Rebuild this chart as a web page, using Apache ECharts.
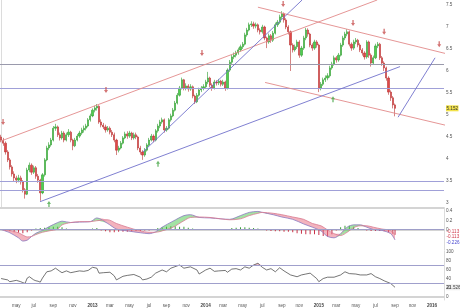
<!DOCTYPE html>
<html><head><meta charset="utf-8">
<script src="https://cdn.jsdelivr.net/npm/echarts@6/dist/echarts.min.js"></script>
<style>html,body{margin:0;padding:0;background:#fff}#c{width:460px;height:308px}</style>
</head><body><div id="c"></div>
<script>
// ---------- data ----------
const startDate = [2012, 2, 12];          // first weekly bar (Y, M0, D)
const weekCount = 204;                    // weeks shown on the axis
const monthNames = ['jan','feb','mar','apr','may','jun','jul','aug','sep','oct','nov','dec'];
// weekly candles: [open, close, low, high]
const candles = [
[4.50,4.43,4.38,4.55],[4.43,4.36,4.30,4.48],[4.36,4.16,4.10,4.40],[4.16,3.98,3.93,4.20],[3.98,3.82,3.76,4.02],
[3.82,3.66,3.60,3.86],[3.66,3.57,3.50,3.72],[3.57,3.52,3.45,3.62],[3.52,3.57,3.47,3.64],[3.57,3.48,3.42,3.62],
[3.48,3.30,3.24,3.52],[3.30,3.20,3.10,3.34],[3.20,3.75,3.18,3.80],[3.75,3.86,3.70,3.92],[3.86,3.70,3.64,3.90],
[3.70,3.80,3.66,3.85],[3.80,3.61,3.55,3.84],[3.61,3.52,3.46,3.66],[3.52,3.23,3.05,3.55],[3.23,3.64,3.20,3.68],
[3.64,3.98,3.60,4.02],[3.98,4.25,3.95,4.30],[4.25,4.32,4.20,4.38],[4.32,4.43,4.28,4.48],[4.43,4.70,4.40,4.75],
[4.70,4.73,4.64,4.80],[4.73,4.55,4.50,4.76],[4.55,4.48,4.42,4.60],[4.48,4.59,4.44,4.64],[4.59,4.43,4.38,4.63],
[4.43,4.55,4.40,4.60],[4.55,4.61,4.50,4.68],[4.61,4.43,4.38,4.64],[4.43,4.30,4.20,4.46],[4.30,4.43,4.27,4.48],
[4.43,4.52,4.40,4.57],[4.52,4.59,4.48,4.64],[4.59,4.66,4.55,4.71],[4.66,4.70,4.60,4.76],[4.70,4.75,4.65,4.80],
[4.75,4.89,4.72,4.93],[4.89,4.98,4.85,5.03],[4.98,5.11,4.95,5.15],[5.11,5.16,5.06,5.21],[5.16,5.20,5.10,5.25],
[5.20,4.84,4.80,5.22],[4.84,4.77,4.72,4.90],[4.77,4.73,4.68,4.82],[4.73,4.66,4.60,4.78],[4.66,4.70,4.62,4.75],
[4.70,4.61,4.56,4.74],[4.61,4.55,4.50,4.66],[4.55,4.43,4.38,4.60],[4.43,4.20,4.09,4.46],[4.20,4.25,4.15,4.30],
[4.25,4.36,4.22,4.41],[4.36,4.48,4.33,4.52],[4.48,4.57,4.45,4.62],[4.57,4.52,4.46,4.63],[4.52,4.59,4.48,4.64],
[4.59,4.48,4.43,4.62],[4.48,4.55,4.44,4.60],[4.55,4.50,4.45,4.60],[4.50,4.25,4.20,4.53],[4.25,4.16,4.10,4.30],
[4.16,4.09,3.98,4.20],[4.09,4.20,4.05,4.25],[4.20,4.32,4.17,4.36],[4.32,4.43,4.28,4.48],[4.43,4.52,4.40,4.57],
[4.52,4.43,4.38,4.56],[4.43,4.64,4.40,4.68],[4.64,4.75,4.60,4.80],[4.75,4.84,4.70,4.89],[4.84,4.89,4.80,4.94],
[4.89,4.66,4.60,4.92],[4.66,4.70,4.62,4.75],[4.70,4.89,4.67,4.93],[4.89,4.98,4.85,5.03],[4.98,5.11,4.95,5.16],
[5.11,5.27,5.08,5.32],[5.27,5.45,5.24,5.50],[5.45,5.61,5.42,5.66],[5.61,5.80,5.58,5.85],[5.80,5.61,5.56,5.82],
[5.61,5.66,5.56,5.72],[5.66,5.59,5.53,5.70],[5.59,5.64,5.55,5.70],[5.64,5.43,5.38,5.67],[5.43,5.30,5.25,5.46],
[5.30,5.45,5.27,5.50],[5.45,5.57,5.42,5.62],[5.57,5.61,5.52,5.66],[5.61,5.64,5.56,5.70],[5.64,5.75,5.60,5.80],
[5.75,5.84,5.70,5.98],[5.84,5.68,5.63,5.87],[5.68,5.61,5.55,5.72],[5.61,5.75,5.58,5.80],[5.75,5.73,5.67,5.79],
[5.73,5.77,5.68,5.82],[5.77,5.70,5.65,5.80],[5.70,5.75,5.66,5.80],[5.75,5.61,5.55,5.78],[5.61,6.02,5.58,6.06],
[6.02,6.20,5.98,6.25],[6.20,6.32,6.16,6.37],[6.32,6.36,6.27,6.42],[6.36,6.41,6.31,6.46],[6.41,6.48,6.37,6.53],
[6.48,6.55,6.44,6.60],[6.55,6.61,6.50,6.66],[6.61,6.82,6.58,6.87],[6.82,6.93,6.78,6.98],[6.93,7.05,6.90,7.10],
[7.05,7.07,7.00,7.13],[7.07,7.02,6.96,7.12],[7.02,7.05,6.97,7.10],[7.05,6.93,6.88,7.08],[6.93,6.89,6.83,6.97],
[6.89,7.00,6.85,7.05],[7.00,6.75,6.70,7.03],[6.75,6.66,6.52,6.78],[6.66,6.80,6.62,6.85],[6.80,6.70,6.64,6.84],
[6.70,6.86,6.66,6.91],[6.86,7.05,6.83,7.10],[7.05,7.11,7.00,7.16],[7.11,7.23,7.07,7.28],[7.23,7.30,7.18,7.36],
[7.30,7.16,7.10,7.33],[7.16,7.00,6.95,7.20],[7.00,6.89,6.83,7.04],[6.89,6.59,6.00,6.92],[6.59,6.48,6.42,6.63],
[6.48,6.55,6.44,6.60],[6.55,6.66,6.50,6.71],[6.66,6.36,6.30,6.70],[6.36,6.52,6.32,6.57],[6.52,6.75,6.48,6.80],
[6.75,6.93,6.70,6.98],[6.93,6.84,6.78,6.97],[6.84,6.59,6.54,6.87],[6.59,6.52,6.46,6.63],[6.52,6.66,6.48,6.71],
[6.66,6.59,6.53,6.70],[6.59,5.61,5.52,6.62],[5.61,5.70,5.56,5.75],[5.70,5.80,5.66,5.85],[5.80,5.84,5.75,5.90],
[5.84,5.89,5.79,5.95],[5.89,6.07,5.85,6.12],[6.07,6.16,6.03,6.21],[6.16,6.30,6.12,6.35],[6.30,6.25,6.19,6.34],
[6.25,6.36,6.21,6.41],[6.36,6.59,6.33,6.64],[6.59,6.75,6.55,6.80],[6.75,6.84,6.70,6.89],[6.84,6.89,6.79,6.95],
[6.89,6.61,6.56,6.92],[6.61,6.52,6.46,6.65],[6.52,6.66,6.48,6.71],[6.66,6.70,6.61,6.75],[6.70,6.59,6.54,6.73],
[6.59,6.48,6.43,6.63],[6.48,6.41,6.35,6.52],[6.41,6.32,6.26,6.45],[6.32,6.66,6.28,6.70],[6.66,6.36,6.30,6.69],
[6.36,6.18,6.10,6.40],[6.18,6.30,6.14,6.35],[6.30,6.57,6.27,6.62],[6.57,6.61,6.52,6.66],[6.61,6.30,6.25,6.64],
[6.30,6.18,6.12,6.34],[6.18,6.07,6.00,6.22],[6.07,5.84,5.78,6.10],[5.84,5.52,5.46,5.88],[5.52,5.39,5.32,5.56],
[5.39,5.23,5.15,5.43],[5.23,5.152,4.97,5.26]
];
// trend lines, endpoints as [week index, price]
const redLines = [
  [[-0.5, 4.40], [172.8, 7.614]],
  [[118, 7.45], [204, 6.40]],
  [[121.3, 5.74], [204, 4.77]]
];
const blueLines = [
  [[17.9, 3.03], [183.3, 6.10]],
  [[65.2, 4.16], [138.3, 7.614]],
  [[182.4, 4.95], [199.4, 6.30]]
];
const levelsGrey = [6.16];
const levelsBlue = [5.61, 3.50, 3.30];
const sellSignals = [[0.9,4.84],[48.2,5.57],[92.3,6.41],[129.6,7.52],[161.7,7.09],[176,6.89],[201.3,6.61]];
const buySignals = [[22,2.98],[72.1,3.89],[152.5,5.36]];
const priceTicks = [3,3.5,4,4.5,5,5.5,6,6.5,7,7.5];
// MACD panel
const macdWeeks  = [0,4,8,10,12,14,16,19,22,26,28,32,36,41,44,49,53,58,64,68,71,74,79,84,87,91,96,101,105,110,114,118,120,125,129,134,139,143,147,150,153,156,159,162,165,168,171,175,179,181];
const macdLine   = [0,-0.07,-0.18,-0.25,-0.23,-0.15,-0.08,-0.02,0.06,0.15,0.18,0.15,0.16,0.17,0.25,0.13,0.01,-0.03,-0.07,-0.09,-0.05,0.05,0.18,0.30,0.32,0.26,0.25,0.23,0.22,0.30,0.37,0.39,0.37,0.32,0.27,0.22,0.12,0.05,-0.03,-0.15,-0.18,-0.09,0.05,0.10,0.10,0.05,0.00,-0.02,-0.09,-0.226];
const signalLine = [0,-0.02,-0.07,-0.12,-0.16,-0.15,-0.11,-0.06,-0.03,0.01,0.10,0.15,0.17,0.17,0.19,0.21,0.13,0.05,-0.03,-0.06,-0.06,-0.03,0.05,0.19,0.26,0.27,0.26,0.23,0.21,0.23,0.30,0.35,0.37,0.35,0.32,0.27,0.22,0.13,0.08,-0.01,-0.09,-0.13,-0.06,0.04,0.08,0.08,0.05,0.01,-0.02,-0.113];
const histWeeks  = [0,2,4,6,8,10,12,14,16,18,20,22,24,26,28,30,32,34,36,38,40,42,44,46,48,50,52,54,56,58,60,62,64,66,68,70,72,74,76,78,80,82,84,86,88,90,92,94,96,98,100,102,104,106,108,110,112,114,116,118,120,122,124,126,128,130,132,134,136,138,140,142,144,146,148,150,152,154,156,158,160,162,164,166,168,170,172,174,176,178,180,181];
const histValues = [0,-0.02,-0.04,-0.06,-0.07,-0.08,-0.06,-0.02,0.02,0.03,
0.04,0.05,0.06,0.06,0.05,0.02,0,-0.01,-0.01,0,
0,0.02,0.03,-0.02,-0.04,-0.06,-0.06,-0.05,-0.05,-0.05,
-0.04,-0.03,-0.03,-0.02,-0.02,0,0.03,0.05,0.06,0.07,
0.07,0.06,0.06,0.04,0.02,0,-0.01,-0.01,0,0,
0,0,0.01,0.03,0.04,0.05,0.05,0.04,0.03,0.02,
0,-0.02,-0.03,-0.04,-0.04,-0.05,-0.05,-0.06,-0.08,-0.09,
-0.1,-0.1,-0.1,-0.12,-0.14,-0.15,-0.1,-0.02,0.05,0.08,
0.08,0.06,0.03,0,-0.02,-0.03,-0.03,-0.03,-0.04,-0.06,
-0.09,-0.113];
const macdTicks = [0,0.2,0.4];
// RSI panel
const rsiWeeks  = [0,3,4,7,9,10,11,12,13,15,16,17,18,19,20,21,23,25,27,28,30,32,34,36,38,40,42,44,45,47,50,52,53,56,58,61,64,65,67,69,71,74,76,78,82,84,87,90,91,94,96,98,100,103,104,106,108,110,112,114,116,118,120,122,124,126,128,130,133,136,138,140,142,145,146,148,150,153,156,158,160,163,165,168,170,172,174,176,179,181];
const rsiValues = [41,38,34,37,34,32,30,42,45,38,36,35,33,42,49,56,58,64,57,54,58,54,56,58,57,59,66,64,53,54,55,47,38,46,48,50,44,38,40,44,53,60,56,64,71,64,67,60,51,60,64,57,58,59,55,62,63,60,67,64,71,75,66,60,63,56,65,58,49,45,49,51,53,41,34,41,44,44,49,56,52,51,49,49,52,45,41,36,30,21.526];
const rsiUpper = 70;
const rsiLower = 30;
const rsiTicks = [0,20,40,60,80,100];

// ---------- build ----------
const cats = [];
const labelOf = [];
for (let i = 0; i < weekCount; i++) {
  const d = new Date(startDate[0], startDate[1], startDate[2] + 7 * i);
  const e = new Date(startDate[0], startDate[1], startDate[2] + 7 * i + 6);
  cats.push(d.getFullYear() + '-' + (d.getMonth() + 1) + '-' + d.getDate());
  let lab = '';
  let m = -1, y = 0;
  if (d.getDate() === 1) { m = d.getMonth(); y = d.getFullYear(); }
  else if (d.getMonth() !== e.getMonth()) { m = e.getMonth(); y = e.getFullYear(); }
  if (m >= 0 && m % 2 === 0) lab = m === 0 ? '{y|' + y + '}' : monthNames[m];
  labelOf.push(lab);
}

const FONT = 'Liberation Sans';
const lab = { fontSize: 4.6, color: '#555', fontFamily: FONT };
const sep = { lineStyle: { color: '#d4d4d4', width: 2 } };

const catAxis = (g, showLab) => ({
  type: 'category', gridIndex: g, data: cats, boundaryGap: true,
  axisLine: { show: true, ...sep }, axisTick: { show: false },
  axisLabel: showLab ? {
    ...lab, margin: 3,
    interval: (idx) => labelOf[idx] !== '',
    formatter: (v, idx) => labelOf[idx],
    rich: { y: { fontSize: 4.6, fontWeight: 'bold', color: '#444', fontFamily: FONT } }
  } : { show: false },
  splitLine: { show: false }
});
const valAxis = (g) => ({ type: 'value', gridIndex: g, min: -0.5, max: weekCount - 0.5, show: false });
const yAx = (g, min, max, ticks) => ({
  type: 'value', gridIndex: g, position: 'right', min, max, scale: true,
  axisLine: { show: true, lineStyle: { color: '#dcdcdc', width: 1 } },
  axisTick: { show: false }, splitLine: { show: false },
  axisLabel: { ...lab, margin: 2, customValues: ticks, formatter: v => String(v) }
});

const series = [];
series.push({
  type: 'candlestick', xAxisIndex: 0, yAxisIndex: 0, data: candles, barWidth: 1.7,
  itemStyle: { color: '#4fcf4f', color0: '#e04848', borderColor: '#2e9a2e', borderColor0: '#b83030', borderWidth: 0.6 },
  markLine: {
    silent: true, symbol: 'none', label: { show: false },
    data: levelsGrey.map(v => ({ yAxis: v, lineStyle: { color: '#9a9aac', width: 1, type: 'solid' } }))
      .concat(levelsBlue.map(v => ({ yAxis: v, lineStyle: { color: '#a0a0d8', width: 1, type: 'solid' } })))
  }
});
redLines.forEach(seg => series.push({
  type: 'line', xAxisIndex: 1, yAxisIndex: 0, data: seg, showSymbol: false, silent: true, z: 5,
  lineStyle: { color: '#e28a8a', width: 0.9 }
}));
blueLines.forEach(seg => series.push({
  type: 'line', xAxisIndex: 1, yAxisIndex: 0, data: seg, showSymbol: false, silent: true, z: 5,
  lineStyle: { color: '#7272cc', width: 0.9 }
}));
series.push({
  type: 'scatter', xAxisIndex: 1, yAxisIndex: 0, data: sellSignals, z: 6,
  symbol: 'path://M2,0L4,0L4,4L6,4L3,8L0,4L2,4Z', symbolSize: [4, 6],
  itemStyle: { color: '#c85050' }
});
series.push({
  type: 'scatter', xAxisIndex: 1, yAxisIndex: 0, data: buySignals, z: 6,
  symbol: 'path://M3,0L6,4L4,4L4,8L2,8L2,4L0,4Z', symbolSize: [4, 6],
  itemStyle: { color: '#4aa84a' }
});

// MACD bands
const bandBase = macdWeeks.map((w, k) => [w, Math.min(macdLine[k], signalLine[k])]);
const bandUp = macdWeeks.map((w, k) => [w, Math.max(macdLine[k] - signalLine[k], 0)]);
const bandDn = macdWeeks.map((w, k) => [w, Math.max(signalLine[k] - macdLine[k], 0)]);
const bandCommon = { type: 'line', xAxisIndex: 2, yAxisIndex: 1, stack: 'macd', stackStrategy: 'all',
  showSymbol: false, silent: true, smooth: 0.3, lineStyle: { width: 0 } };
series.push({ ...bandCommon, data: bandBase });
series.push({ ...bandCommon, data: bandUp, areaStyle: { color: 'rgba(80,200,80,0.75)' } });
series.push({ ...bandCommon, data: bandDn, areaStyle: { color: 'rgba(232,110,130,0.75)' } });
series.push({
  type: 'bar', xAxisIndex: 2, yAxisIndex: 1, barWidth: 1, silent: true,
  data: histWeeks.map((w, k) => ({ value: [w, histValues[k]], itemStyle: { color: histValues[k] >= 0 ? '#3a9e3a' : '#c8324a' } })),
  markLine: { silent: true, symbol: 'none', label: { show: false },
    data: [{ yAxis: 0, lineStyle: { color: '#9e9ec8', width: 1, type: 'solid' } }] }
});
series.push({ type: 'line', xAxisIndex: 2, yAxisIndex: 1, data: macdWeeks.map((w, k) => [w, macdLine[k]]),
  showSymbol: false, smooth: 0.3, silent: true, lineStyle: { color: '#8a78c0', width: 0.8 } });
series.push({ type: 'line', xAxisIndex: 2, yAxisIndex: 1, data: macdWeeks.map((w, k) => [w, signalLine[k]]),
  showSymbol: false, smooth: 0.3, silent: true, lineStyle: { color: '#d87a90', width: 0.8 } });

// RSI: shade the part above the upper band
const rsiCommon = { type: 'line', xAxisIndex: 3, yAxisIndex: 2, stack: 'rsiOver', stackStrategy: 'all',
  showSymbol: false, silent: true, lineStyle: { width: 0 } };
series.push({ ...rsiCommon, data: rsiWeeks.map(w => [w, rsiUpper]) });
series.push({ ...rsiCommon, data: rsiWeeks.map((w, k) => [w, Math.max(rsiValues[k] - rsiUpper, 0)]),
  areaStyle: { color: 'rgba(230,130,150,0.7)' } });
series.push({
  type: 'line', xAxisIndex: 3, yAxisIndex: 2, data: rsiWeeks.map((w, k) => [w, rsiValues[k]]),
  showSymbol: false, silent: true, lineStyle: { color: '#3a3a3a', width: 0.7 }, z: 4,
  markLine: { silent: true, symbol: 'none', label: { show: false },
    data: [rsiUpper, rsiLower].map(v => ({ yAxis: v, lineStyle: { color: '#a0a0cc', width: 1, type: 'solid' } })) }
});

const chart = echarts.init(document.getElementById('c'), null, { renderer: 'canvas' });
chart.setOption({
  animation: false,
  backgroundColor: '#fff',
  grid: [
    { left: 0, right: 16, top: 0, height: 208 },
    { left: 0, right: 16, top: 209, height: 41 },
    { left: 0, right: 16, top: 251, height: 49 }
  ],
  xAxis: [catAxis(0, false), valAxis(0), catAxis(1, false), catAxis(2, true)],
  yAxis: [
    yAx(0, 2.8864, 7.6136, priceTicks),
    yAx(1, -0.443, 0.443, macdTicks),
    yAx(2, -6.67, 102.2, rsiTicks)
  ],
  series
});

// last-value tags at the right axis
const lastClose = candles[candles.length - 1][1];
const lastMacd = macdLine[macdLine.length - 1];
const lastSig = signalLine[signalLine.length - 1];
const lastHist = histValues[histValues.length - 1];
const lastRsi = rsiValues[rsiValues.length - 1];
const xr = chart.convertToPixel({ xAxisIndex: 1 }, weekCount - 0.5) + 2;
const py = v => chart.convertToPixel({ yAxisIndex: 0 }, v);
const my = v => chart.convertToPixel({ yAxisIndex: 1 }, v);
const ry = v => chart.convertToPixel({ yAxisIndex: 2 }, v);
const tag = (y, text, color, bg) => ({
  type: 'text', x: xr, y: y, silent: true,
  style: { text, fill: color, fontSize: 4.6, fontFamily: FONT, verticalAlign: 'middle',
    backgroundColor: bg || 'transparent', padding: [0.5, 0.5] }
});
chart.setOption({
  graphic: [
    tag(py(lastClose), String(lastClose), '#333', '#f2e24a'),
    tag(my(lastSig) - 2.5, lastSig.toFixed(3), '#d03a4a'),
    tag(my(lastHist) + 1.8, lastHist.toFixed(3), '#d03a4a'),
    tag(my(lastMacd) + 2.5, lastMacd.toFixed(3), '#4a4ad0'),
    tag(ry(lastRsi), lastRsi.toFixed(3), '#444', '#eeeeee')
  ]
});
</script></body></html>
